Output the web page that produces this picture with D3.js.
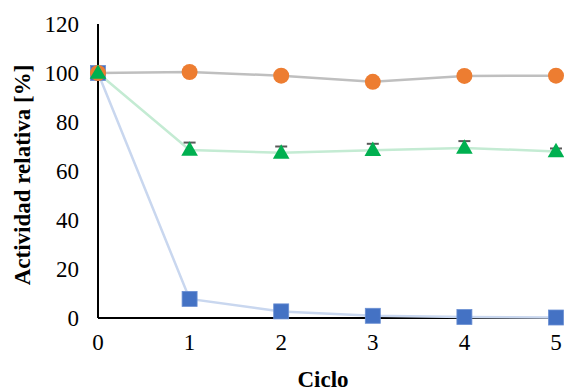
<!DOCTYPE html>
<html>
<head>
<meta charset="utf-8">
<script src="https://cdn.jsdelivr.net/npm/d3@7"></script>
</head>
<body style="margin:0;padding:0;background:#fff">
<svg id="chart" width="564" height="392" style="display:block"></svg>
<script>
// Relative activity over reuse cycles
const cycles = [0, 1, 2, 3, 4, 5];
const xTicks = [0, 1, 2, 3, 4, 5];
const yTicks = [0, 20, 40, 60, 80, 100, 120];

const seriesSquare = [100, 7.8, 2.7, 0.9, 0.4, 0.2];
const seriesCircle = [100, 100.4, 98.9, 96.4, 98.8, 98.9];
const seriesTriangle = [100, 68.6, 67.4, 68.5, 69.4, 68.0];
const errTriangle = [0, 3.0, 2.6, 2.6, 2.8, 1.2];

const xTitle = "Ciclo";
const yTitle = "Actividad relativa [%]";

const svg = d3.select("#chart");
const W = 564, H = 392;
const m = { left: 98, right: 8, top: 24, bottom: 74 };

const x = d3.scaleLinear().domain([0, 5]).range([m.left, 556]);
const y = d3.scaleLinear().domain([0, 120]).range([H - m.bottom, m.top]);

// Y axis (labels placed as plain text elements)
svg.append("line")
  .attr("x1", m.left).attr("x2", m.left).attr("y1", y(120)).attr("y2", y(0))
  .attr("stroke", "#000").attr("stroke-width", 2);
svg.append("g").selectAll("text").data(yTicks).join("text")
  .attr("x", m.left - 19).attr("y", d => y(d)).attr("dy", "0.35em")
  .attr("text-anchor", "end")
  .attr("font-family", "Liberation Serif").attr("font-size", 23)
  .text(d => d);

// X axis
svg.append("line")
  .attr("x1", m.left).attr("x2", W - 2).attr("y1", y(0)).attr("y2", y(0))
  .attr("stroke", "#000").attr("stroke-width", 2);
svg.append("g").selectAll("text").data(xTicks).join("text")
  .attr("x", d => x(d)).attr("y", y(0) + 32)
  .attr("text-anchor", "middle")
  .style("font-family", "Times New Roman").style("font-size", "23px")
  .text(d => d);

// Axis titles
svg.append("text")
  .attr("x", 323).attr("y", 387)
  .attr("text-anchor", "middle")
  .attr("font-family", "Liberation Serif").attr("font-size", 23).attr("font-weight", "bold")
  .text(xTitle);

svg.append("text")
  .attr("transform", `translate(30,${175}) rotate(-90)`)
  .attr("text-anchor", "middle")
  .style("font", 'bold 23px "Liberation Serif"')
  .text(yTitle);

const line = d3.line().x((d, i) => x(cycles[i])).y(d => y(d));

// Connecting lines
svg.append("path").datum(seriesSquare).attr("d", line)
  .attr("fill", "none").attr("stroke", "#C9D7EF").attr("stroke-width", 2.5);
svg.append("path").datum(seriesCircle).attr("d", line)
  .attr("fill", "none").attr("stroke", "#BFBFBF").attr("stroke-width", 2.5);
svg.append("path").datum(seriesTriangle).attr("d", line)
  .attr("fill", "none").attr("stroke", "#C4EBD3").attr("stroke-width", 2.5);

// Square markers
svg.append("g").selectAll("rect").data(seriesSquare).join("rect")
  .attr("x", (d, i) => x(cycles[i]) - 7.5)
  .attr("y", d => y(d) - 7.5)
  .attr("width", 15).attr("height", 15)
  .attr("fill", "#4472C4").attr("stroke", "#6A8FD3").attr("stroke-width", 0.8);

// Circle markers
svg.append("g").selectAll("circle").data(seriesCircle).join("circle")
  .attr("cx", (d, i) => x(cycles[i]))
  .attr("cy", d => y(d))
  .attr("r", 8)
  .attr("fill", "#ED7D31");

// Error bars for the triangle series
const eb = svg.append("g").attr("stroke", "#595959").attr("stroke-width", 2);
seriesTriangle.forEach((d, i) => {
  if (errTriangle[i] <= 0) return;
  const cx = x(cycles[i]);
  eb.append("line").attr("x1", cx).attr("x2", cx)
    .attr("y1", y(d)).attr("y2", y(d + errTriangle[i]));
  eb.append("line").attr("x1", cx - 6).attr("x2", cx + 6)
    .attr("y1", y(d + errTriangle[i])).attr("y2", y(d + errTriangle[i]));
});

// Triangle markers
const tri = d3.symbol().type(d3.symbolTriangle).size(120);
svg.append("g").selectAll("path").data(seriesTriangle).join("path")
  .attr("d", tri)
  .attr("transform", (d, i) => `translate(${x(cycles[i])},${y(d) + 1})`)
  .attr("fill", "#00B050");
</script>
</body>
</html>
